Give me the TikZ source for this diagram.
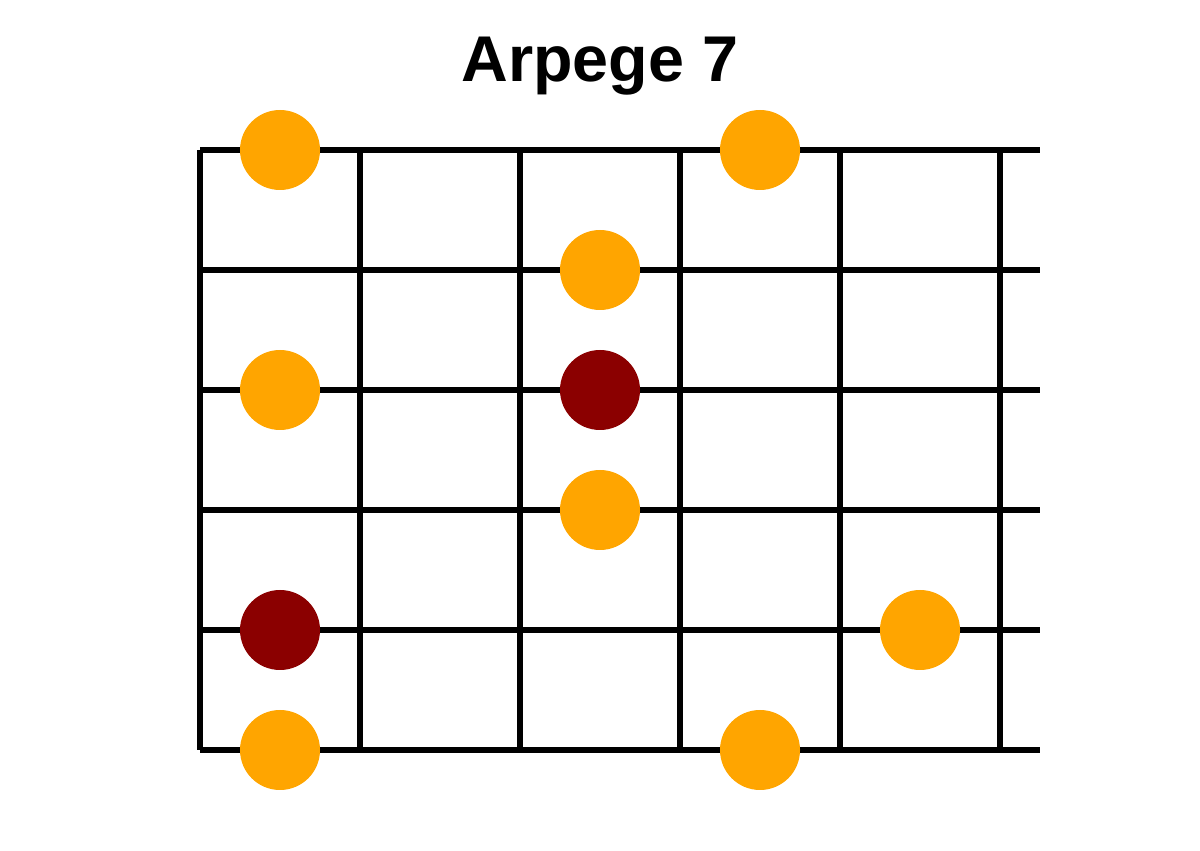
\documentclass[tikz,border=0pt]{standalone}
\usepackage{fontspec}
\setmainfont{Liberation Sans}
\definecolor{noteorange}{HTML}{FFA500}
\definecolor{rootred}{HTML}{8B0000}
\tikzset{
  fretline/.style={line width=0.13cm, color=black},
  note/.style={circle, fill=noteorange, minimum size=2cm, inner sep=0pt},
  root/.style={circle, fill=rootred, minimum size=2cm, inner sep=0pt}
}

\begin{document}
\begin{tikzpicture}
		%%%%% START %%%%%
		\useasboundingbox (0, 0) rectangle (30, 21.25);
		
		\node[font=\bfseries\fontsize{46}{50}\selectfont] (title) at (15, 19.6) {Arpege 7};
		
		% strings
		\draw[fretline] (5, 17.5) -- (26, 17.5);
		\draw[fretline] (5, 14.5) -- (26, 14.5);
		\draw[fretline] (5, 11.5) -- (26, 11.5);
		\draw[fretline] (5, 8.5) -- (26, 8.5);
		\draw[fretline] (5, 5.5) -- (26, 5.5);
		\draw[fretline] (5, 2.5) -- (26, 2.5);
		
		% frets
		\draw[fretline] (5, 17.5) -- (5, 2.5);
		\draw[fretline] (9, 17.5) -- (9, 2.5);
		\draw[fretline] (13, 17.5) -- (13, 2.5);
		\draw[fretline] (17, 17.5) -- (17, 2.5);
		\draw[fretline] (21, 17.5) -- (21, 2.5);
		\draw[fretline] (25, 17.5) -- (25, 2.5);
		
		% notes
		\node[note] (n1) at (7, 17.5) {};
		\node[note] (n2) at (19, 17.5) {};
		\node[note] (n3) at (15, 14.5) {};
		\node[note] (n4) at (7, 11.5) {};
		\node[root] (r1) at (15, 11.5) {};
		\node[note] (n5) at (15, 8.5) {};
		\node[root] (r2) at (7, 5.5) {};
		\node[note] (n6) at (23, 5.5) {};
		\node[note] (n7) at (7, 2.5) {};
		\node[note] (n8) at (19, 2.5) {};
		
		%%%%% END %%%%%
	\end{tikzpicture}
\end{document}
